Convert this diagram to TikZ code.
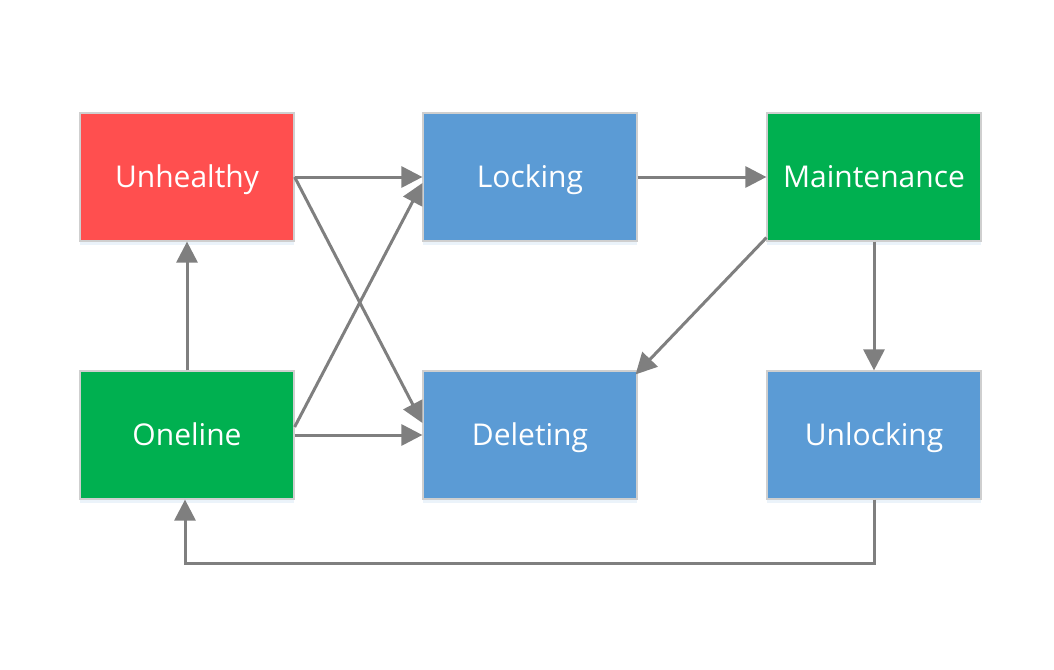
\documentclass[tikz,border=0pt]{standalone}
\usepackage{fontspec}
\setmainfont{Open Sans}
\usetikzlibrary{arrows.meta,shadows}
\definecolor{alarm}{HTML}{FF4F4F}
\definecolor{steel}{HTML}{5B9BD5}
\definecolor{leaf}{HTML}{00B050}
\definecolor{wire}{HTML}{7F7F7F}
\definecolor{rim}{HTML}{CFCFCF}

\tikzset{
  state/.style={draw=rim,line width=1.2pt,minimum width=214pt,minimum height=128pt,
    text=white,font=\fontsize{30}{34}\selectfont,text height=25pt,text depth=5pt,
    drop shadow={shadow xshift=0pt,shadow yshift=-4pt,opacity=.12,fill=steel}},
  flow/.style={wire,line width=3pt,-{Triangle[length=21pt,width=21pt]}}
}

\begin{document}
\begin{tikzpicture}[x=1pt,y=-1pt]
  \useasboundingbox (0,0) rectangle (1054,669);
  \node[state,fill=alarm] (uh) at (187,177) {Unhealthy};
  \node[state,fill=steel] (lk) at (530,177) {Locking};
  \node[state,fill=leaf]  (mt) at (874,177) {Maintenance};
  \node[state,fill=leaf]  (ol) at (187,435) {Oneline};
  \node[state,fill=steel] (dl) at (530,435) {Deleting};
  \node[state,fill=steel] (ul) at (874,435) {Unlocking};

  \draw[flow] (uh.east) -- (lk.west);
  \draw[flow] (uh.east) -- ([yshift=12pt]dl.west);
  \draw[flow] ([yshift=8pt]ol.east) -- ([yshift=-6pt]lk.west);
  \draw[flow] (ol.east) -- (dl.west);
  \draw[flow] (lk.east) -- (mt.west);
  \draw[flow] ([yshift=4pt]mt.south west) -- ([xshift=-2pt,yshift=-4pt]dl.north east);
  \draw[flow] (mt.south) -- (ul.north);
  \draw[flow] (ol.north) -- (uh.south);

  \coordinate (loop) at (874,563);
  \draw[flow] (ul.south) -- (loop) -| ([xshift=-2pt]ol.south);
\end{tikzpicture}
\end{document}
